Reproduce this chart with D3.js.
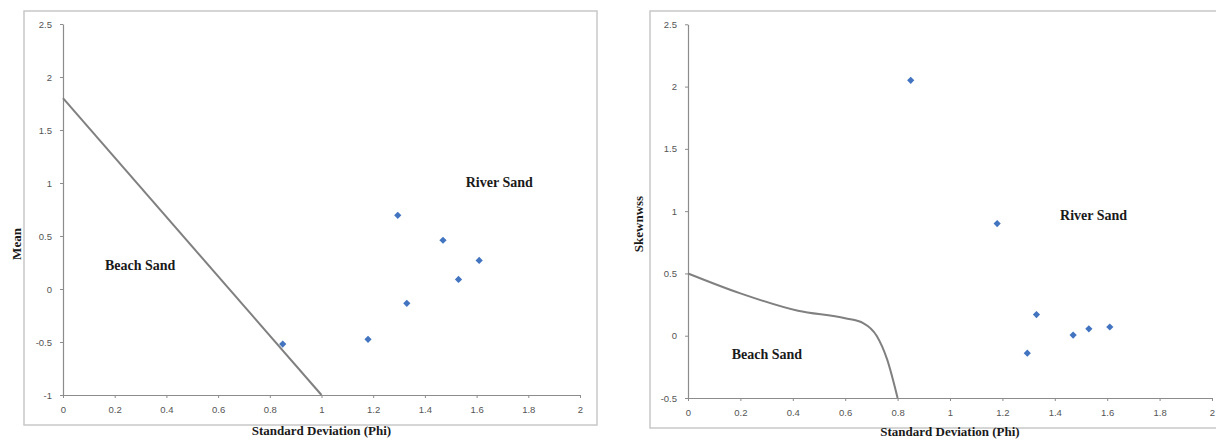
<!DOCTYPE html>
<html>
<head>
<meta charset="utf-8">
<script src="https://cdn.jsdelivr.net/npm/d3@7"></script>
<style>
  body { margin: 0; background: #fff; }
  svg { display: block; }
</style>
</head>
<body>
<div id="chart"></div>
<script>
// Sample values (same samples in both panels)
var stdDev   = [0.85, 1.18, 1.295, 1.33, 1.47, 1.53, 1.61];
var meanVals = [-0.52, -0.475, 0.695, -0.135, 0.46, 0.09, 0.27];
var skewVals = [2.05, 0.9, -0.14, 0.17, 0.005, 0.055, 0.07];

// Dividing lines between beach and river sand
var meanLineX = [0, 1];
var meanLineY = [1.8, -1];
var skewCurveX = [0, 0.2, 0.42, 0.6, 0.67, 0.72, 0.76, 0.8];
var skewCurveY = [0.5, 0.34, 0.2, 0.14, 0.1, 0.0, -0.19, -0.5];

// Tick labels
var xTicks    = [0, 0.2, 0.4, 0.6, 0.8, 1, 1.2, 1.4, 1.6, 1.8, 2];
var meanTicks = [-1, -0.5, 0, 0.5, 1, 1.5, 2, 2.5];
var skewTicks = [-0.5, 0, 0.5, 1, 1.5, 2, 2.5];

var width = 1216, height = 440;

var svg = d3.select("#chart").append("svg")
    .attr("width", width)
    .attr("height", height);

// Function to draw one panel
function drawPanel(opt) {
    var g = svg.append("g");

    // chart border
    g.append("rect")
        .attr("x", opt.frame[0]).attr("y", opt.frame[1])
        .attr("width", opt.frame[2]).attr("height", opt.frame[3])
        .attr("fill", "none")
        .attr("stroke", "#c8c8c8")
        .attr("stroke-width", 1.5);

    var x = d3.scaleLinear().domain([0, 2]).range([opt.left, opt.right]);
    var y = d3.scaleLinear().domain(opt.yDomain).range([opt.bottom, opt.top]);

    var fmt = d => String(d);

    // axes
    var xAxis = g.append("g")
        .attr("transform", "translate(0," + opt.bottom + ")")
        .call(d3.axisBottom(x).tickValues(xTicks).tickFormat(fmt).tickSize(3).tickSizeOuter(0).tickPadding(8));
    var yAxis = g.append("g")
        .attr("transform", "translate(" + opt.left + ",0)")
        .call(d3.axisLeft(y).tickValues(opt.yTicks).tickFormat(fmt).tickSize(3).tickSizeOuter(0).tickPadding(8));

    [xAxis, yAxis].forEach(a => {
        a.select(".domain").attr("stroke", "#8c8c8c").attr("stroke-width", 1.2);
        a.selectAll(".tick line").attr("stroke", "#8c8c8c");
        a.selectAll(".tick text")
            .attr("fill", "#555")
            .style("font-family", "'Liberation Sans', Arial, sans-serif")
            .style("font-size", "9.5px");
    });

    // dividing line
    var pts = opt.lineX.map((d, i) => [d, opt.lineY[i]]);
    g.append("path")
        .datum(pts)
        .attr("fill", "none")
        .attr("stroke", "#808080")
        .attr("stroke-width", 2)
        .attr("d", d3.line().x(d => x(d[0])).y(d => y(d[1])).curve(opt.curve));

    // sample points as diamonds
    var diamond = d3.symbol().type(d3.symbolSquare).size(26);
    g.append("g")
        .selectAll("path")
        .data(stdDev.map((d, i) => [d, opt.values[i]]))
        .enter().append("path")
        .attr("d", diamond)
        .attr("transform", d => "translate(" + x(d[0]) + "," + y(d[1]) + ") rotate(45)")
        .attr("fill", "#4274c0");

    var serif = "'Liberation Serif', 'Times New Roman', serif";

    // region labels
    opt.labels.forEach(l => {
        g.append("text")
            .attr("x", x(l.x)).attr("y", y(l.y))
            .attr("fill", "#1a1a1a")
            .style("font-family", serif)
            .style("font-weight", "bold")
            .style("font-size", "14px")
            .text(l.text);
    });

    // axis titles
    g.append("text")
        .attr("x", (opt.left + opt.right) / 2)
        .attr("y", opt.xTitleY)
        .attr("text-anchor", "middle")
        .attr("fill", "#1a1a1a")
        .style("font-family", serif)
        .style("font-weight", "bold")
        .style("font-size", "13px")
        .text("Standard Deviation (Phi)");

    g.append("text")
        .attr("transform", "translate(" + opt.yTitle[0] + "," + opt.yTitle[1] + ") rotate(-90)")
        .attr("text-anchor", "middle")
        .attr("fill", "#1a1a1a")
        .style("font-family", serif)
        .style("font-weight", "bold")
        .style("font-size", "13px")
        .text(opt.yLabel);
}

drawPanel({
    frame: [24, 11, 573, 414],
    left: 63, right: 580, top: 24, bottom: 395,
    yDomain: [-1, 2.5], yTicks: meanTicks,
    values: meanVals,
    lineX: meanLineX, lineY: meanLineY, curve: d3.curveLinear,
    labels: [
        { text: "Beach Sand", x: 0.162, y: 0.18 },
        { text: "River Sand", x: 1.558, y: 0.96 }
    ],
    xTitleY: 435,
    yTitle: [21, 244],
    yLabel: "Mean"
});

drawPanel({
    frame: [650, 11, 600, 417],
    left: 688, right: 1212, top: 24.3, bottom: 398,
    yDomain: [-0.5, 2.5], yTicks: skewTicks,
    values: skewVals,
    lineX: skewCurveX, lineY: skewCurveY, curve: d3.curveMonotoneX,
    labels: [
        { text: "Beach Sand", x: 0.167, y: -0.19 },
        { text: "River Sand", x: 1.42, y: 0.928 }
    ],
    xTitleY: 436,
    yTitle: [643, 224],
    yLabel: "Skewnwss"
});
</script>
</body>
</html>
